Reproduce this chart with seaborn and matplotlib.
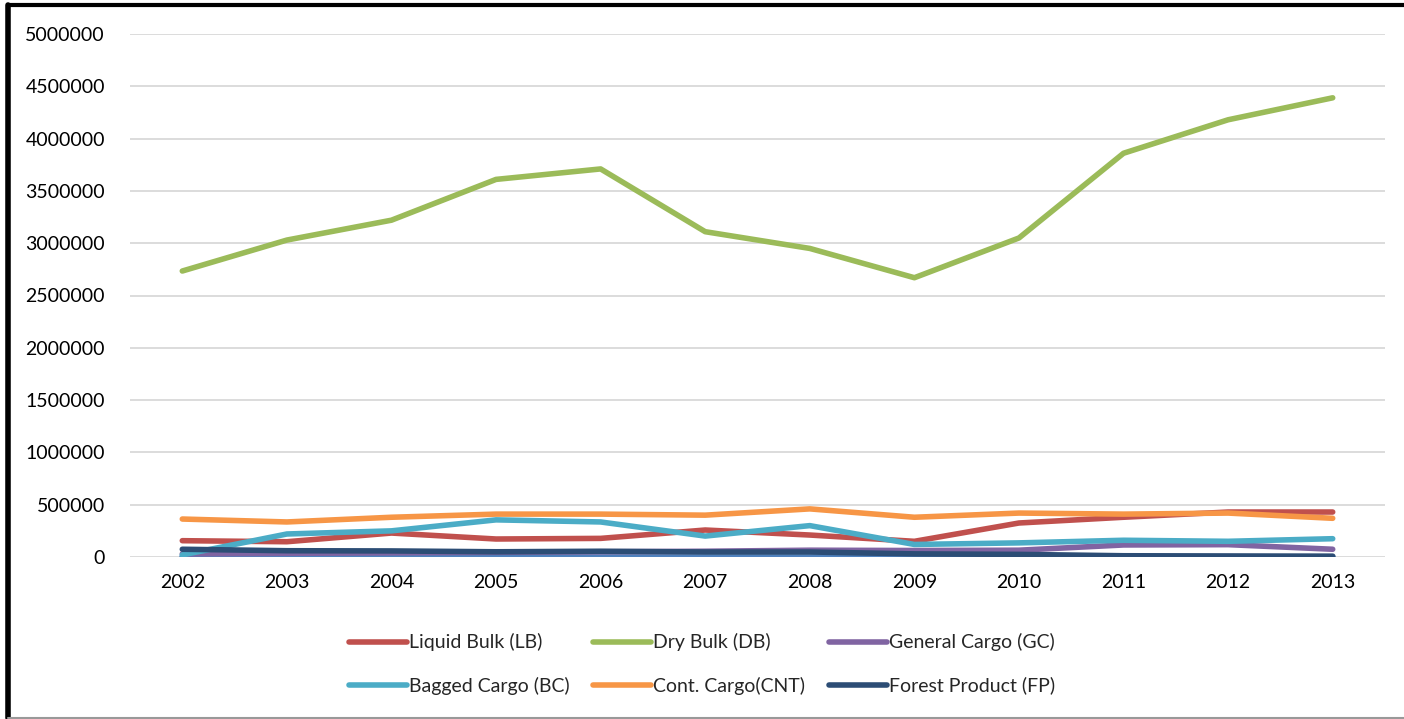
import numpy as np
import pandas as pd
import matplotlib.pyplot as plt
import seaborn as sns
from matplotlib.lines import Line2D

years = [2002, 2003, 2004, 2005, 2006, 2007, 2008, 2009, 2010, 2011, 2012, 2013]

liquid_bulk = [156000, 146000, 229000, 172000, 178000, 258000, 210000, 150000, 325000, 380000, 430000, 430000]
dry_bulk = [2734000, 3030000, 3220000, 3610000, 3710000, 3110000, 2950000, 2670000, 3050000, 3860000, 4180000, 4390000]
general_cargo = [30000, 35000, 40000, 45000, 50000, 55000, 65000, 62000, 65000, 115000, 118000, 74000]
bagged_cargo = [20000, 220000, 250000, 355000, 335000, 200000, 300000, 120000, 135000, 160000, 150000, 175000]
cont_cargo = [363000, 335000, 380000, 410000, 410000, 400000, 460000, 380000, 420000, 410000, 420000, 370000]
forest_product = [74000, 60000, 58000, 50000, 55000, 48000, 48000, 30000, 25000, 12000, 10000, 8000]
other = [2000, 2000, 2000, 2000, 2000, 2000, 2000, 2000, 2000, 2000, 2000, 2000]

labels = ["Liquid Bulk (LB)", "Dry Bulk (DB)", "General Cargo (GC)",
          "Bagged Cargo (BC)", "Cont. Cargo(CNT)", "Forest Product (FP)"]
colors = ["#C0504D", "#9BBB59", "#8064A2", "#4BACC6", "#F79646", "#2C4D75"]
series = [liquid_bulk, dry_bulk, general_cargo, bagged_cargo, cont_cargo, forest_product]

sns.set_style("white")
plt.rcParams["font.family"] = ["Lato", "DejaVu Sans"]

fig = plt.figure(figsize=(14.04, 7.19), dpi=100)
ax = fig.add_axes([130 / 1404, 1 - 557 / 719, (1385 - 130) / 1404, (557 - 34) / 719])

lw = 4.0
# hidden blue series at zero
sns.lineplot(x=years, y=other, color="#4F81BD", linewidth=lw, ax=ax,
             solid_capstyle="round", zorder=2)
for vals, lab, col in zip(series, labels, colors):
    sns.lineplot(x=years, y=vals, color=col, linewidth=lw, ax=ax,
                 solid_capstyle="round", zorder=3)

ax.set_xlim(2001.5, 2013.5)
ax.set_ylim(0, 5000000)
ax.set_xticks(years)
ax.set_xticklabels([str(y) for y in years], fontsize=14)
ax.set_yticks(np.arange(0, 5000001, 500000))
ax.set_yticklabels([str(v) for v in range(0, 5000001, 500000)], fontsize=14)
ax.yaxis.grid(True, color="#D9D9D9", linewidth=1.3)
ax.set_axisbelow(True)
for s in ax.spines.values():
    s.set_visible(False)
ax.tick_params(axis="both", length=0, colors="black")
ax.tick_params(axis="y", pad=18)
ax.tick_params(axis="x", pad=12)

# legend filled row by row: reorder for matplotlib's column-major fill
order = [0, 3, 1, 4, 2, 5]
handles = [Line2D([0], [0], color=colors[i], linewidth=lw, solid_capstyle="round") for i in order]
fig.legend(handles, [labels[i] for i in order], loc="center",
           bbox_to_anchor=(0.5, 1 - 664 / 719), ncol=3,
           frameon=False, fontsize=14, handlelength=3.0, handletextpad=0.1,
           columnspacing=1.2, labelspacing=1.3)

# outer frame
fig.add_artist(Line2D([0.006, 1], [1 - 5 / 719, 1 - 5 / 719], color="black", linewidth=3, transform=fig.transFigure))
fig.add_artist(Line2D([8 / 1404, 8 / 1404], [1 / 719, 1 - 5 / 719], color="black", linewidth=4, transform=fig.transFigure))
fig.add_artist(Line2D([8 / 1404, 1], [1.5 / 719, 1.5 / 719], color="#999999", linewidth=1.5, transform=fig.transFigure))

fig.savefig("out.png", dpi=100, facecolor="white")
